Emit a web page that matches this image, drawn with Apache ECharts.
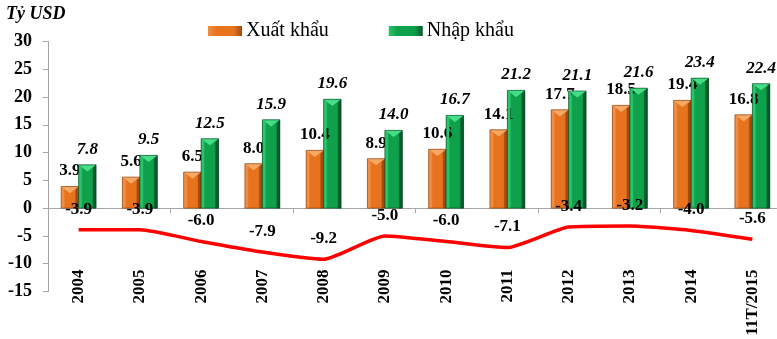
<!DOCTYPE html>
<html>
<head>
<meta charset="utf-8">
<script src="https://cdn.jsdelivr.net/npm/echarts@6/dist/echarts.min.js"></script>
<style>
  html, body { margin: 0; padding: 0; background: #fff; }
  #chart { width: 777px; height: 339px; }
</style>
</head>
<body>
<div id="chart"></div>
<script>
// Exports, imports (billion USD) and trade balance by year
const years = ['2004', '2005', '2006', '2007', '2008', '2009', '2010', '2011', '2012', '2013', '2014', '11T/2015'];
const exportsUSD = [3.9, 5.6, 6.5, 8.0, 10.4, 8.9, 10.6, 14.1, 17.7, 18.5, 19.4, 16.8];
const importsUSD = [7.8, 9.5, 12.5, 15.9, 19.6, 14.0, 16.7, 21.2, 21.1, 21.6, 23.4, 22.4];
const balanceUSD = [-3.9, -3.9, -6.0, -7.9, -9.2, -5.0, -6.0, -7.1, -3.4, -3.2, -4.0, -5.6];
const yTicks = { min: -15, max: 30, step: 5 };

const SERIF = "'Liberation Serif', 'Times New Roman', serif";
const BAR_RATIO = 0.285;

const PAL = {
  orange: { body: '#E8731F', light: '#F7A865', side: '#F08F45', dark: '#A24A10', edge: '#7A3608' },
  green:  { body: '#0FA04B', light: '#45DD85', side: '#2BC469', dark: '#075A29', edge: '#044020' }
};

function hGrad(p) {
  return new echarts.graphic.LinearGradient(0, 0, 1, 0, [
    { offset: 0, color: p.side },
    { offset: 0.25, color: p.body },
    { offset: 0.75, color: p.body },
    { offset: 1, color: p.dark }
  ]);
}

// Bevel decoration drawn over each bar pair
function renderBevel(params, api) {
  const i = api.value(0);
  const base = api.coord([i, 0]);
  const band = api.size([1, 0])[0];
  const w = band * BAR_RATIO;
  const children = [];
  [[1, -1, PAL.orange], [2, 0, PAL.green]].forEach(function (d) {
    const v = api.value(d[0]);
    const p = d[2];
    const y0 = api.coord([i, v])[1];
    const y1 = base[1];
    const x0 = base[0] + d[1] * w;
    const x1 = x0 + w;
    const h = y1 - y0;
    const b = Math.min(3, h / 4);
    const tip = Math.min(w * 0.38, h / 2);
    children.push({
      type: 'polygon',
      shape: { points: [[x0, y0], [x0 + b, y0 + b], [x0 + b, y1], [x0, y1]] },
      style: { fill: p.side }
    });
    children.push({
      type: 'polygon',
      shape: { points: [[x1, y0], [x1 - b, y0 + b], [x1 - b, y1], [x1, y1]] },
      style: { fill: p.dark }
    });
    children.push({
      type: 'polygon',
      shape: { points: [[x0, y0], [x1, y0], [(x0 + x1) / 2, y0 + tip]] },
      style: { fill: p.light }
    });
    children.push({
      type: 'rect',
      shape: { x: x0, y: y0, width: w, height: h },
      style: { fill: 'none', stroke: p.edge, lineWidth: 0.6 }
    });
  });
  return { type: 'group', children: children };
}

const chart = echarts.init(document.getElementById('chart'), null, { renderer: 'canvas' });

chart.setOption({
  animation: false,
  backgroundColor: '#ffffff',
  title: {
    text: 'Tỷ USD',
    left: 1,
    top: 0,
    textStyle: { fontFamily: SERIF, fontSize: 18, fontStyle: 'italic', fontWeight: 'bold', color: '#000' }
  },
  legend: {
    data: ['Xuất khẩu', 'Nhập khẩu'],
    left: 203,
    top: 16,
    icon: 'rect',
    itemWidth: 34,
    itemHeight: 10,
    itemGap: 60,
    textStyle: { fontFamily: SERIF, fontSize: 20, color: '#000', padding: [0, 0, 0, -1] }
  },
  grid: {
    left: 48,
    top: 41.5,
    bottom: 47.5,
    width: 735,
    containLabel: false,
    outerBoundsMode: 'none'
  },
  xAxis: [
    {
      type: 'category',
      data: years,
      position: 'bottom',
      axisLine: { onZero: true, lineStyle: { color: '#A6A6A6', width: 1 } },
      axisTick: { show: true, length: 5, lineStyle: { color: '#A6A6A6' } },
      axisLabel: { show: false },
      splitLine: { show: false }
    },
    {
      type: 'category',
      data: years,
      position: 'bottom',
      offset: -30,
      axisLine: { show: false, onZero: false },
      axisTick: { show: false },
      axisLabel: {
        rotate: 90,
        margin: 8,
        interval: 0,
        fontFamily: SERIF,
        fontSize: 17,
        fontWeight: 'bold',
        color: '#000'
      },
      splitLine: { show: false }
    }
  ],
  yAxis: {
    type: 'value',
    min: yTicks.min,
    max: yTicks.max,
    interval: yTicks.step,
    axisLine: { show: true, lineStyle: { color: '#A6A6A6' } },
    axisTick: { show: true, length: 5, lineStyle: { color: '#A6A6A6' } },
    splitLine: { show: false },
    axisLabel: {
      margin: 16,
      fontFamily: SERIF,
      fontSize: 18,
      fontWeight: 'bold',
      color: '#000'
    }
  },
  series: [
    {
      name: 'Xuất khẩu',
      type: 'bar',
      xAxisIndex: 0,
      data: exportsUSD,
      barWidth: (BAR_RATIO * 100) + '%',
      barGap: '0%',
      itemStyle: { color: hGrad(PAL.orange) },
      label: {
        show: true,
        position: 'top',
        distance: 7,
        fontFamily: SERIF,
        fontSize: 17,
        fontWeight: 'bold',
        color: '#000',
        formatter: function (p) { return p.value.toFixed(1); }
      },
      z: 2
    },
    {
      name: 'Nhập khẩu',
      type: 'bar',
      xAxisIndex: 0,
      data: importsUSD,
      barWidth: (BAR_RATIO * 100) + '%',
      barGap: '0%',
      itemStyle: { color: hGrad(PAL.green) },
      label: {
        show: true,
        position: 'top',
        distance: 7,
        fontFamily: SERIF,
        fontSize: 17,
        fontWeight: 'bold',
        fontStyle: 'italic',
        color: '#000',
        formatter: function (p) { return p.value.toFixed(1); }
      },
      z: 2
    },
    {
      name: 'bevel',
      type: 'custom',
      xAxisIndex: 0,
      renderItem: renderBevel,
      data: years.map(function (_, i) { return [i, exportsUSD[i], importsUSD[i]]; }),
      encode: { x: 0, y: [1, 2] },
      silent: true,
      z: 3
    },
    {
      name: 'Cán cân',
      type: 'line',
      xAxisIndex: 0,
      data: balanceUSD,
      smooth: 0.18,
      symbol: 'circle',
      symbolSize: 0.1,
      showSymbol: true,
      itemStyle: { color: 'rgba(0,0,0,0)' },
      lineStyle: { color: '#FF0000', width: 3.5 },
      label: {
        show: true,
        position: 'top',
        distance: 12,
        fontFamily: SERIF,
        fontSize: 17,
        fontWeight: 'bold',
        color: '#000',
        formatter: function (p) { return p.value.toFixed(1); }
      },
      z: 5
    }
  ]
});
</script>
</body>
</html>
